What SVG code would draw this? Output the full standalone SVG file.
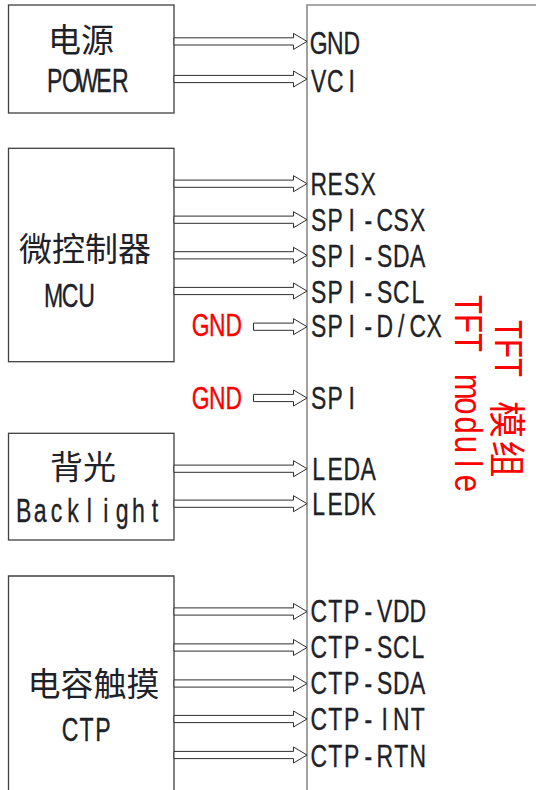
<svg xmlns="http://www.w3.org/2000/svg" xmlns:xlink="http://www.w3.org/1999/xlink" width="536" height="790" viewBox="0 0 536 790">
<defs>
<style>
.box{fill:#fff;stroke:#404040;stroke-width:1.3}
.mod{fill:none;stroke:#8c8c8c;stroke-width:1.6}
.arr{fill:#fff;stroke:#2e2e2e;stroke-width:1}
.lbl{font-family:"Liberation Sans","Noto Sans CJK SC",sans-serif;font-size:31px;fill:#1e2228;stroke:#1e2228;stroke-width:0.35;text-anchor:middle}
.big{font-family:"Liberation Sans","Noto Sans CJK SC",sans-serif;font-size:33px;fill:#1e2228;stroke:#1e2228;stroke-width:0.35;text-anchor:middle}
.cjk{font-family:"Noto Sans CJK SC",sans-serif;font-size:33px;fill:#1e2228}
.red{font-family:"Liberation Sans","Noto Sans CJK SC",sans-serif;font-size:31px;fill:#ff0000;stroke:#ff0000;stroke-width:0.35;text-anchor:middle}
.redv{font-family:"Liberation Sans","Noto Sans CJK SC",sans-serif;font-size:38px;fill:#ff0000;text-anchor:middle}
.redc{font-family:"Noto Sans CJK SC",sans-serif;font-size:37px;fill:#ff0000;text-anchor:middle}
</style>
<path id="aL" class="arr" d="M-133,-3.6 H-13.5 V-8 L0,0 L-13.5,8 V3.6 H-133 Z"/>
<path id="aS" class="arr" d="M-53.5,-3.6 H-13.5 V-8 L0,0 L-13.5,8 V3.6 H-53.5 Z"/>
</defs>
<rect width="536" height="790" fill="#fff"/>

<g id="tft">
<path class="mod" d="M307,800 V5 H540"/>
<text class="lbl" transform="translate(310.5 54) scale(0.74 1)" x="11.15 33.45 55.75">GND</text>
<text class="lbl" transform="translate(310.5 92) scale(0.74 1)" x="11.15 33.45 55.75">VCI</text>
<text class="lbl" transform="translate(310.5 195) scale(0.74 1)" x="11.15 33.45 55.75 78.05">RESX</text>
<text class="lbl" transform="translate(310.5 230.5) scale(0.74 1)" x="11.15 33.45 55.75 78.05 100.35 122.65 144.95">SPI-CSX</text>
<text class="lbl" transform="translate(310.5 266.5) scale(0.74 1)" x="11.15 33.45 55.75 78.05 100.35 122.65 144.95">SPI-SDA</text>
<text class="lbl" transform="translate(310.5 302.5) scale(0.74 1)" x="11.15 33.45 55.75 78.05 100.35 122.65 144.95">SPI-SCL</text>
<text class="lbl" transform="translate(310.5 336.5) scale(0.74 1)" x="11.15 33.45 55.75 78.05 100.35 122.65 144.95 167.25">SPI-D/CX</text>
<text class="lbl" transform="translate(310.5 409) scale(0.74 1)" x="11.15 33.45 55.75">SPI</text>
<text class="lbl" transform="translate(310.5 480) scale(0.74 1)" x="11.15 33.45 55.75 78.05">LEDA</text>
<text class="lbl" transform="translate(310.5 515) scale(0.74 1)" x="11.15 33.45 55.75 78.05">LEDK</text>
<text class="lbl" transform="translate(310.5 622) scale(0.74 1)" x="11.15 33.45 55.75 78.05 100.35 122.65 144.95">CTP-VDD</text>
<text class="lbl" transform="translate(310.5 658) scale(0.74 1)" x="11.15 33.45 55.75 78.05 100.35 122.65 144.95">CTP-SCL</text>
<text class="lbl" transform="translate(310.5 694) scale(0.74 1)" x="11.15 33.45 55.75 78.05 100.35 122.65 144.95">CTP-SDA</text>
<text class="lbl" transform="translate(310.5 730) scale(0.74 1)" x="11.15 33.45 55.75 78.05 100.35 122.65 144.95">CTP-INT</text>
<text class="lbl" transform="translate(310.5 766.5) scale(0.74 1)" x="11.15 33.45 55.75 78.05 100.35 122.65 144.95">CTP-RTN</text>
<text class="redv" transform="translate(494.5 0) rotate(90) scale(0.82 1)" x="401.8 425 448.2">TFT</text>
<text class="redc" transform="translate(492.5 0) rotate(90)" x="419.5 459">模组</text>
<text class="redv" transform="translate(455 0) rotate(90) scale(0.82 1)" x="371.3 394.5 417.7 441.5 471.5 495 518.5 542 565.5 589.5">TFT module</text>
</g>

<g id="power">
<rect class="box" x="8.5" y="5" width="165.5" height="108"/>
<text class="cjk" x="48" y="52">电源</text>
<text class="big" transform="translate(46.5 92.3) scale(0.7 1)" x="11.7 35.1 58.6 82 105.4">POWER</text>
</g>

<g id="mcu">
<rect class="box" x="8.5" y="148.3" width="165.5" height="213.4"/>
<text class="cjk" x="19" y="260.5">微控制器</text>
<text class="big" transform="translate(45.5 306.5) scale(0.7 1)" x="11.7 35.1 58.6">MCU</text>
</g>

<g id="backlight">
<rect class="box" x="8.5" y="433.3" width="165.5" height="106.7"/>
<text class="cjk" x="50" y="479">背光</text>
<text class="big" transform="translate(15.5 522) scale(0.7 1)" x="11.7 35.1 58.6 82 105.4 128.9 152.3 175.7 199.1">Backlight</text>
</g>

<g id="ctp">
<path class="box" d="M8.5,800 V576 H174 V800"/>
<text class="cjk" x="27.5" y="696">电容触摸</text>
<text class="big" transform="translate(62 741) scale(0.7 1)" x="11.7 35.1 58.6">CTP</text>
</g>

<g id="gnd-sources">
<text class="red" transform="translate(192.5 336.3) scale(0.74 1)" x="11.15 33.45 55.75">GND</text>
<text class="red" transform="translate(192.5 408.5) scale(0.74 1)" x="11.15 33.45 55.75">GND</text>
</g>

<g id="connectors">
<use xlink:href="#aL" x="307" y="41.4"/>
<use xlink:href="#aL" x="307" y="79"/>
<use xlink:href="#aL" x="307" y="183.7"/>
<use xlink:href="#aL" x="307" y="219.7"/>
<use xlink:href="#aL" x="307" y="255.3"/>
<use xlink:href="#aL" x="307" y="291"/>
<use xlink:href="#aS" x="307" y="326.7"/>
<use xlink:href="#aS" x="307" y="398"/>
<use xlink:href="#aL" x="307" y="468.7"/>
<use xlink:href="#aL" x="307" y="503.7"/>
<use xlink:href="#aL" x="307" y="611.5"/>
<use xlink:href="#aL" x="307" y="647.5"/>
<use xlink:href="#aL" x="307" y="683.5"/>
<use xlink:href="#aL" x="307" y="719"/>
<use xlink:href="#aL" x="307" y="755"/>
</g>
</svg>
